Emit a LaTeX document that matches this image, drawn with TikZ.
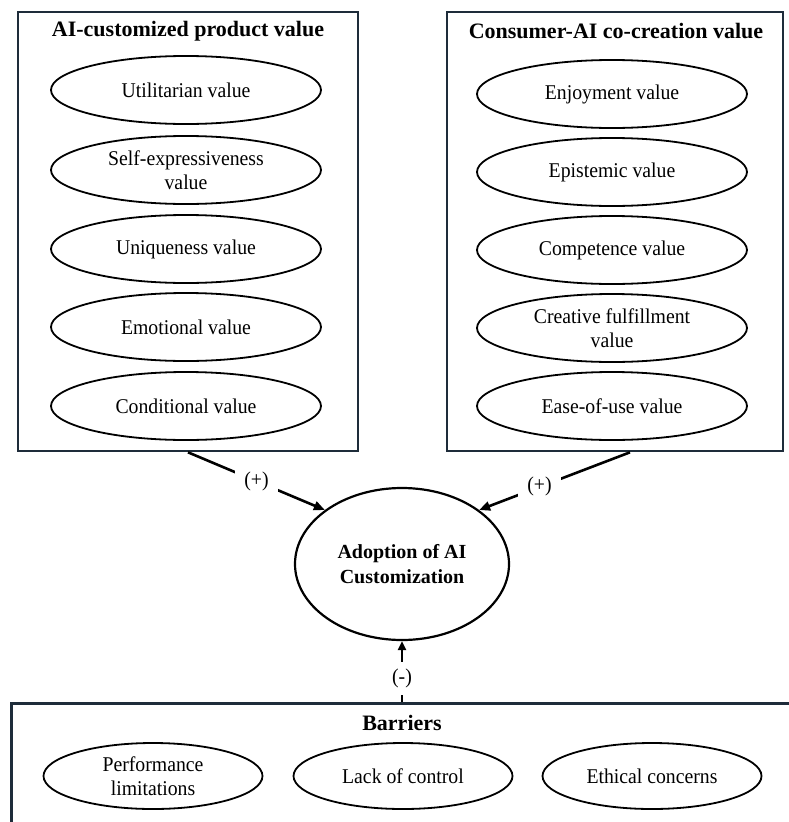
\documentclass[tikz,border=0pt]{standalone}
\usepackage{fontspec}
\setmainfont{Liberation Serif}
\newfontfamily\condserif{Liberation Serif}[FakeStretch=0.94]
\usetikzlibrary{shapes.geometric,arrows.meta,calc}
\definecolor{boxc}{RGB}{30,44,58}
\begin{document}
\begin{tikzpicture}[x=1pt,y=-1pt,
  grp/.style={draw=boxc,line width=2.6pt,inner sep=0pt},
  ttl/.style={font=\bfseries\fontsize{22}{26}\selectfont,inner sep=0pt},
  val/.style={ellipse,draw,line width=1.8pt,inner sep=0pt,minimum width=270pt,minimum height=68pt,align=center,font=\condserif\fontsize{21}{24}\selectfont},
  bval/.style={val,minimum width=219pt,minimum height=66pt},
  core/.style={ellipse,draw,line width=2.2pt,inner sep=0pt,minimum width=214pt,minimum height=152pt,align=center,font=\bfseries\fontsize{20}{25}\selectfont},
  arr/.style={line width=2.6pt,-{Triangle[length=11pt,width=9pt]}},
  arrb/.style={line width=2.6pt,-{Triangle[length=9pt,width=8pt]}},
  lbl/.style={fill=white,inner xsep=9pt,inner ysep=2pt,font=\condserif\fontsize{21}{24}\selectfont},
  lblv/.style={fill=white,inner xsep=3pt,inner ysep=7pt,font=\condserif\fontsize{21}{24}\selectfont}
]
\clip (0,0) rectangle (789,822);
\fill[white] (0,0) rectangle (789,822);

% group boxes
\node[grp,minimum width=340pt,minimum height=439pt] (lbox) at (188,231.5) {};
\node[grp,minimum width=336pt,minimum height=439pt] (rbox) at (615,231.5) {};
\node[grp,minimum width=820pt,minimum height=220pt,anchor=north west] (bar) at (10,702) {};

% titles
\node[ttl] (lt) at (188,31) {AI-customized product value};
\node[ttl] (rt) at (616,31) {Consumer-AI co-creation value};
\node[ttl] (bt) at (402,723) {Barriers};

% left values
\node[val] (u1) at (186,90) {Utilitarian value};
\node[val] (u2) at (186,170) {Self-expressiveness\\value};
\node[val] (u3) at (186,249) {Uniqueness value};
\node[val] (u4) at (186,327) {Emotional value};
\node[val] (u5) at (186,406) {Conditional value};

% right values
\node[val] (c1) at (612,94) {Enjoyment value};
\node[val] (c2) at (612,172) {Epistemic value};
\node[val] (c3) at (612,250) {Competence value};
\node[val] (c4) at (612,328) {Creative fulfillment\\value};
\node[val] (c5) at (612,406) {Ease-of-use value};

% barriers
\node[bval] (b1) at (153,776) {Performance\\limitations};
\node[bval] (b2) at (403,776) {Lack of control};
\node[bval] (b3) at (652,776) {Ethical concerns};

% core
\node[core] (ad) at (402,564) {Adoption of AI\\Customization};

% connectors
\draw[arr] (lbox.south) -- node[lbl,pos=0.5]{(+)} (ad.145);
\draw[arr] ([xshift=15pt]rbox.south) -- node[lbl,pos=0.6]{(+)} (ad.35);
\draw[arrb] (bar.north -| ad.south) -- node[lblv,pos=0.39]{(-)} (ad.south);
\end{tikzpicture}
\end{document}
